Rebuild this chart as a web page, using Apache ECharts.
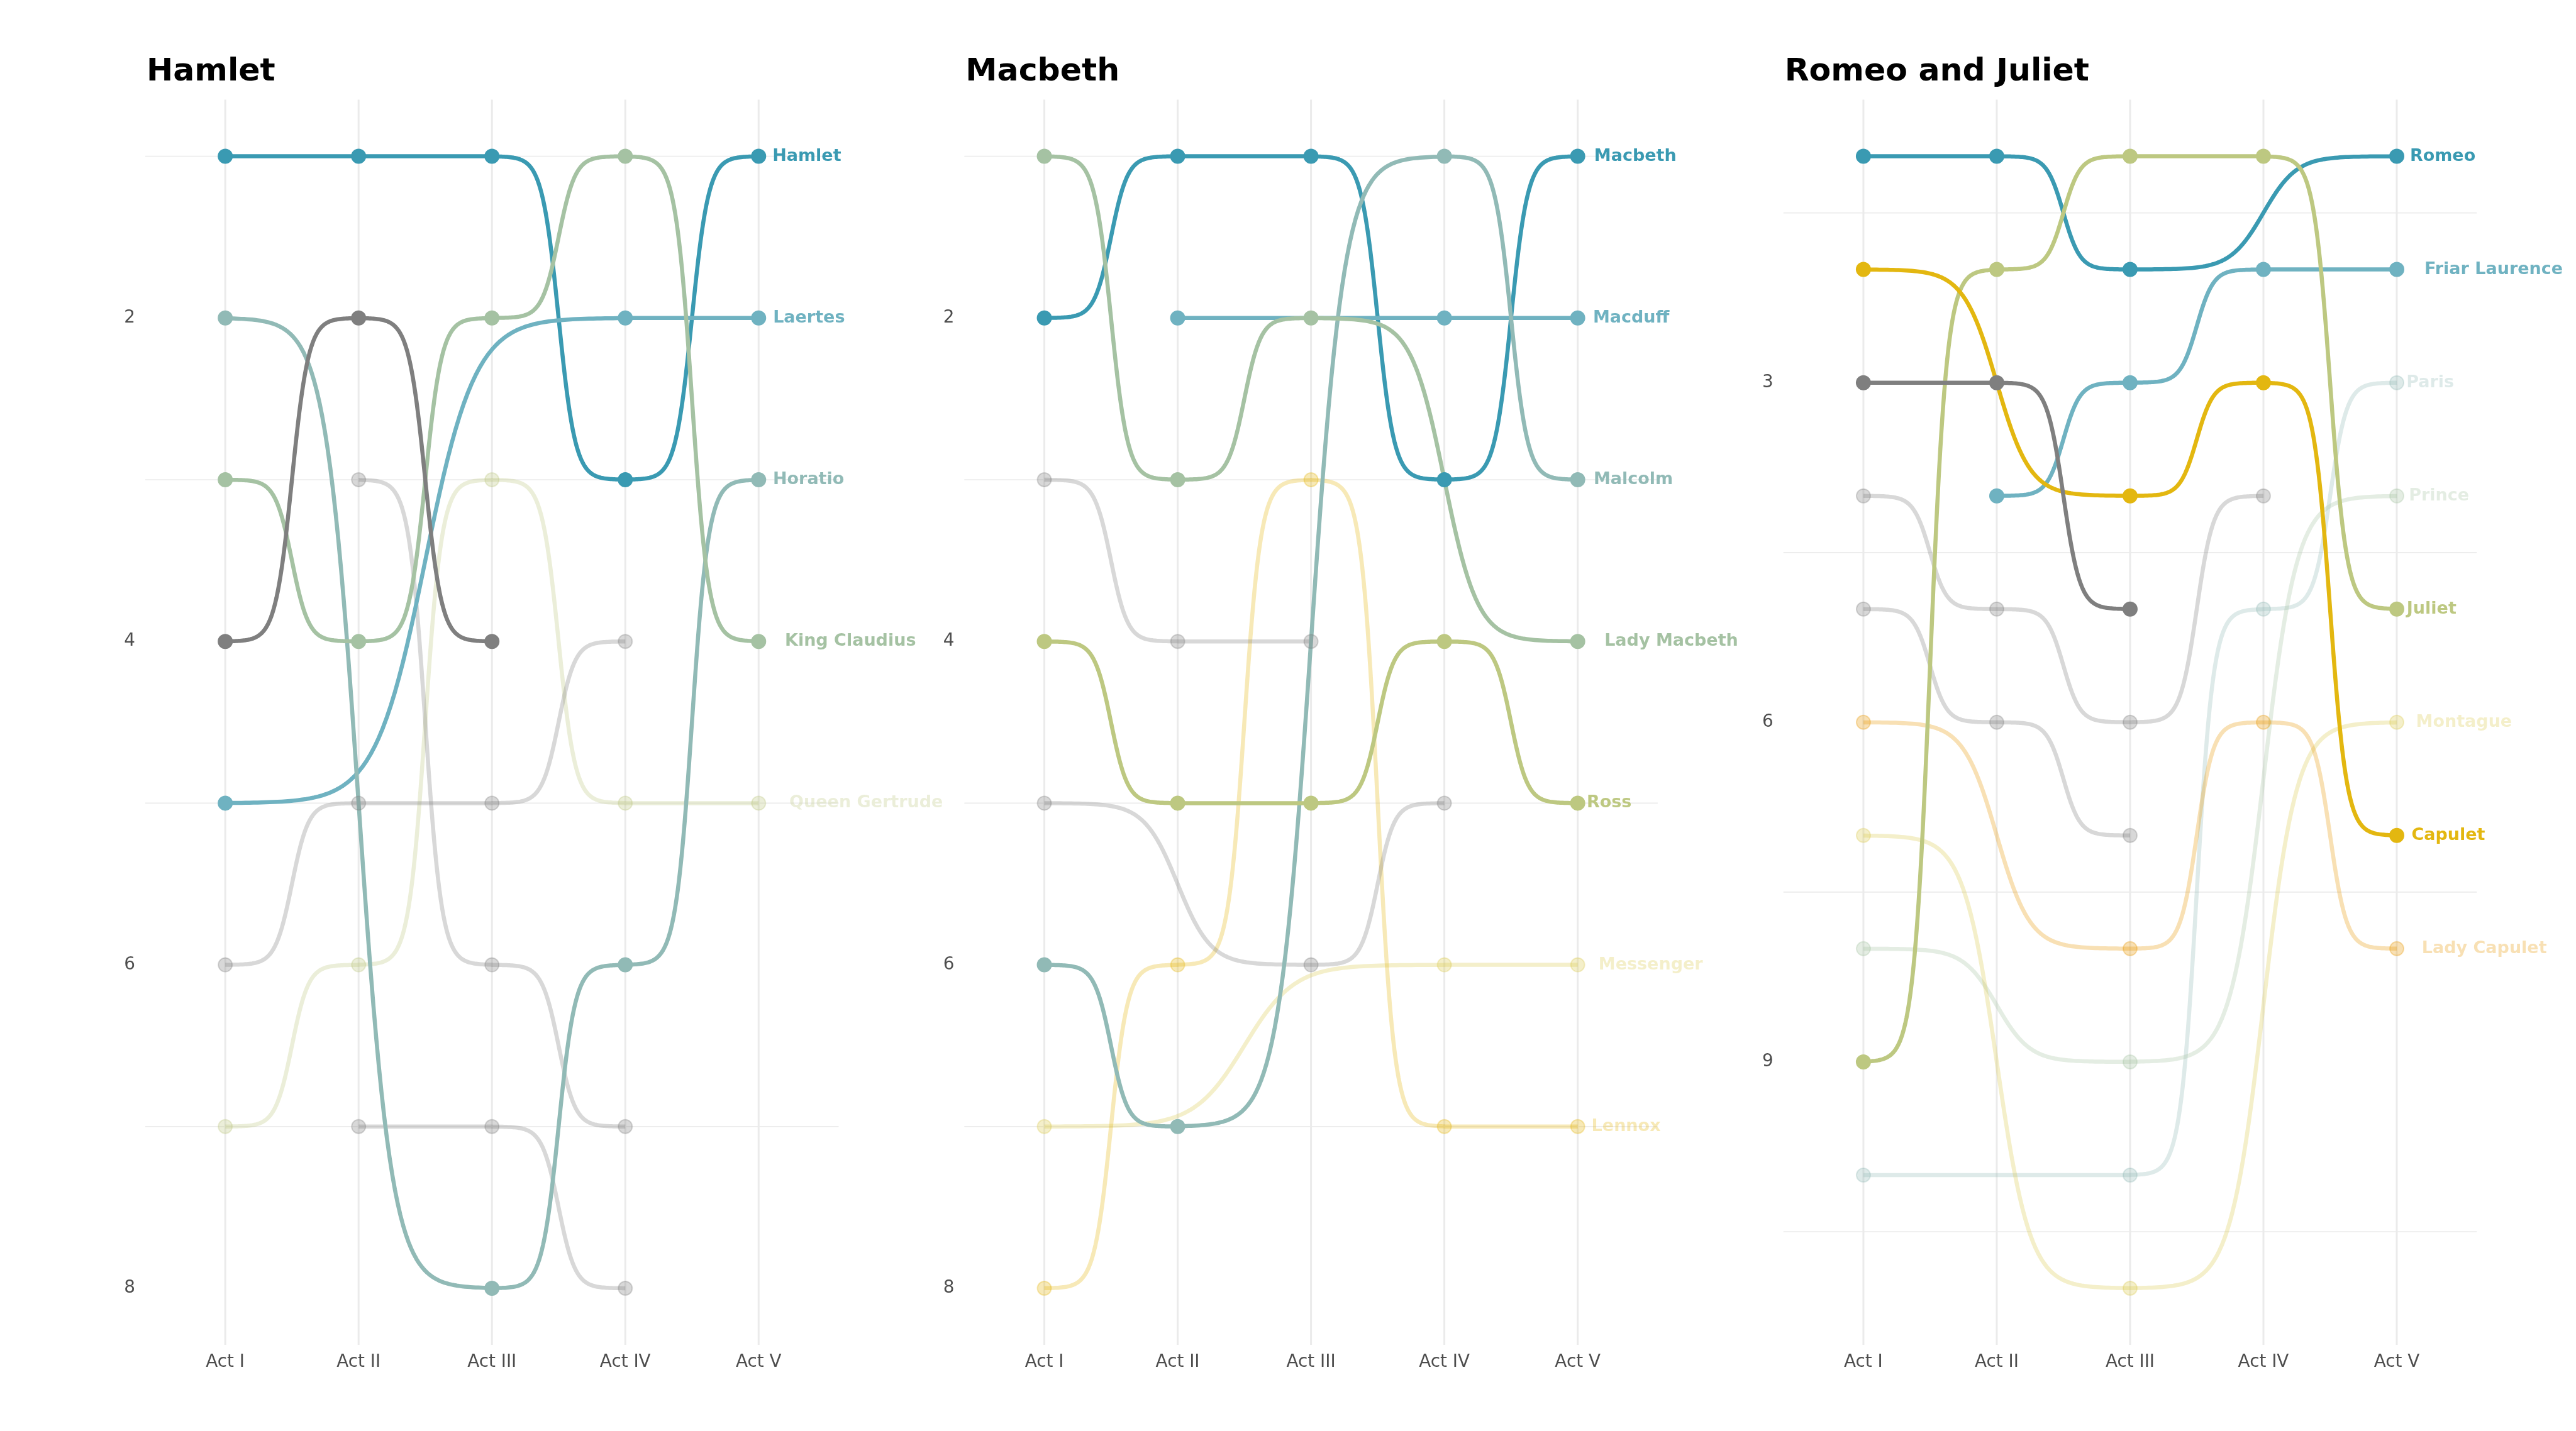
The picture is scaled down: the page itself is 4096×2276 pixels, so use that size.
<!DOCTYPE html>
<html>
<head>
<meta charset="utf-8">
<script src="https://cdn.jsdelivr.net/npm/echarts@6/dist/echarts.min.js"></script>
<style>
html,body{margin:0;padding:0;background:#ffffff;}
#chart{width:4096px;height:2276px;}
</style>
</head>
<body>
<div id="chart"></div>
<script>
// ---------------- DATA ----------------
const acts = ['Act I', 'Act II', 'Act III', 'Act IV', 'Act V'];
const actValues = [1, 2, 3, 4, 5];
const playTitles = ['Hamlet', 'Macbeth', 'Romeo and Juliet'];

// rank of each character in each act (null = not present)
const hamletCharacters = ['Hamlet', 'Laertes', 'Horatio', 'King Claudius', 'Queen Gertrude',
  'Polonius', 'Ophelia', 'Rosencrantz', 'Guildenstern'];
const hamletRanks = [
  [1, 1, 1, 3, 1],
  [5, null, null, 2, 2],
  [2, null, 8, 6, 3],
  [3, 4, 2, 1, 4],
  [7, 6, 3, 5, 5],
  [4, 2, 4, null, null],
  [6, 5, 5, 4, null],
  [null, 3, 6, 7, null],
  [null, 7, 7, 8, null]
];
const hamletHighlighted = ['Hamlet', 'Laertes', 'Horatio', 'King Claudius', 'Polonius'];

const macbethCharacters = ['Macbeth', 'Macduff', 'Malcolm', 'Lady Macbeth', 'Ross',
  'Messenger', 'Lennox', 'Banquo', 'First Witch'];
const macbethRanks = [
  [2, 1, 1, 3, 1],
  [null, 2, null, 2, 2],
  [6, 7, null, 1, 3],
  [1, 3, 2, null, 4],
  [4, 5, 5, 4, 5],
  [7, null, null, 6, 6],
  [8, 6, 3, 7, 7],
  [3, 4, 4, null, null],
  [5, null, 6, 5, null]
];
const macbethHighlighted = ['Macbeth', 'Macduff', 'Malcolm', 'Lady Macbeth', 'Ross'];

const romeoCharacters = ['Romeo', 'Friar Laurence', 'Paris', 'Prince', 'Juliet', 'Montague',
  'Capulet', 'Lady Capulet', 'Mercutio', 'Nurse', 'Benvolio'];
const romeoRanks = [
  [1, 1, 2, null, 1],
  [null, 4, 3, 2, 2],
  [10, null, 10, 5, 3],
  [8, null, 9, null, 4],
  [9, 2, 1, 1, 5],
  [7, null, 11, null, 6],
  [2, null, 4, 3, 7],
  [6, null, 8, 6, 8],
  [3, 3, 5, null, null],
  [4, 5, 6, 4, null],
  [5, 6, 7, null, null]
];
const romeoHighlighted = ['Romeo', 'Friar Laurence', 'Juliet', 'Capulet', 'Mercutio'];

// y-axis tick labels and minor grid lines
const hamletYTicks = [2, 4, 6, 8];
const hamletYGrid = [1, 3, 5, 7];
const macbethYTicks = [2, 4, 6, 8];
const macbethYGrid = [1, 3, 5, 7];
const romeoYTicks = [3, 6, 9];
const romeoYGrid = [1.5, 4.5, 7.5, 10.5];

// colour palette (wesanderson Zissou1Continuous), by final-act rank
const palette = ['#3A9AB2', '#6FB2C1', '#91BAB6', '#A5C2A3', '#BDC881', '#DCCB4E', '#E3B710', '#E79805'];
const otherColor = '#7F7F7F';

// ---------------- LAYOUT / STYLE ----------------
const S = 4096 / 5400;
const panelLefts = [304.5 * S, 2021.5 * S, 3738.5 * S];
const panelWidth = 1453.5 * S;
const panelTop = 209 * S;
const panelHeight = (2820 - 209) * S;
const FONT = '"DejaVu Sans", "Liberation Sans", sans-serif';
const lineW = 6.5;
const fadeAlpha = 0.3;
const labelFontSize = 27;
const labelFont = 'bold ' + labelFontSize + 'px ' + FONT;

const plays = [
  {chars: hamletCharacters, ranks: hamletRanks, hi: hamletHighlighted, ticks: hamletYTicks, grid: hamletYGrid},
  {chars: macbethCharacters, ranks: macbethRanks, hi: macbethHighlighted, ticks: macbethYTicks, grid: macbethYGrid},
  {chars: romeoCharacters, ranks: romeoRanks, hi: romeoHighlighted, ticks: romeoYTicks, grid: romeoYGrid}
];

function rgba(hex, a) {
  const r = parseInt(hex.slice(1, 3), 16), g = parseInt(hex.slice(3, 5), 16), b = parseInt(hex.slice(5, 7), 16);
  return 'rgba(' + r + ',' + g + ',' + b + ',' + a + ')';
}

const measureCtx = document.createElement('canvas').getContext('2d');
measureCtx.font = labelFont;
function textWidth(t) { return measureCtx.measureText(t).width; }

// ggbump-style sigmoid between two pixel points
function sigmoidPts(p0, p1, out) {
  const n = 100, s = 8;
  for (let k = 0; k < n; k++) {
    const t = -s + 2 * s * k / (n - 1);
    const f = 1 / (1 + Math.exp(-t));
    out.push([p0[0] + (t + s) / (2 * s) * (p1[0] - p0[0]), p0[1] + f * (p1[1] - p0[1])]);
  }
}

const grids = [], xAxes = [], yAxes = [], series = [], titles = [];

plays.forEach(function (play, pi) {
  let maxRank = 0;
  play.ranks.forEach(function (row) { row.forEach(function (v) { if (v != null && v > maxRank) maxRank = v; }); });
  const pad = 0.05 * (maxRank - 1);

  grids.push({left: panelLefts[pi], top: panelTop, width: panelWidth, height: panelHeight, containLabel: false});
  titles.push({
    text: playTitles[pi], left: panelLefts[pi] + 2, top: 89, padding: 0,
    textStyle: {fontFamily: FONT, fontWeight: 'bold', fontSize: 50.5, color: '#000000'}
  });
  xAxes.push({
    type: 'value', gridIndex: pi, min: 0.4, max: 5.6,
    axisLine: {show: false}, axisTick: {show: false}, splitLine: {show: false},
    axisLabel: {
      customValues: actValues, margin: 14, color: '#4D4D4D', fontFamily: FONT, fontSize: 27.8,
      formatter: function (v) { return acts[Math.round(v) - 1]; }
    }
  });
  yAxes.push({
    type: 'value', gridIndex: pi, inverse: true, min: 1 - pad, max: maxRank + pad,
    axisLine: {show: false}, axisTick: {show: false}, splitLine: {show: false},
    axisLabel: {customValues: play.ticks, margin: 16, color: '#4D4D4D', fontFamily: FONT, fontSize: 27.8}
  });

  // horizontal (minor) grid lines
  series.push({
    type: 'custom', xAxisIndex: pi, yAxisIndex: pi, z: 0, silent: true,
    data: play.grid.map(function (v) { return [3, v]; }),
    encode: {x: 0, y: 1},
    renderItem: function (params, api) {
      const y = api.coord([3, api.value(1)])[1];
      const cs = params.coordSys;
      return {type: 'line', shape: {x1: cs.x, y1: y, x2: cs.x + cs.width, y2: y},
        style: {stroke: '#EBEBEB', lineWidth: 1.6}};
    }
  });
  // vertical grid lines at acts
  series.push({
    type: 'custom', xAxisIndex: pi, yAxisIndex: pi, z: 0, silent: true,
    data: actValues.map(function (a) { return [a, 1]; }),
    encode: {x: 0, y: 1},
    renderItem: function (params, api) {
      const x = api.coord([api.value(0), 1])[0];
      const cs = params.coordSys;
      return {type: 'line', shape: {x1: x, y1: cs.y, x2: x, y2: cs.y + cs.height},
        style: {stroke: '#EBEBEB', lineWidth: 3}};
    }
  });

  const labelNames = [], labelColors = [], labelData = [];

  play.chars.forEach(function (name, ci) {
    const row = play.ranks[ci];
    const finalRank = row[4];
    const base = finalRank != null ? palette[finalRank - 1] : otherColor;
    const hi = play.hi.indexOf(name) >= 0;
    const alpha = hi ? 1 : fadeAlpha;
    const col = rgba(base, alpha);
    const pts = [];
    row.forEach(function (r, ai) { if (r != null) pts.push([actValues[ai], r]); });

    // bump line
    series.push({
      type: 'custom', name: name, xAxisIndex: pi, yAxisIndex: pi, z: hi ? 2 : 1, silent: true,
      data: pts, encode: {x: 0, y: 1},
      renderItem: function (params, api) {
        if (params.dataIndexInside !== 0) return null;
        const n = params.dataInsideLength;
        const path = [];
        let prev = null;
        for (let i = 0; i < n; i++) {
          const c = api.coord([api.value(0, i), api.value(1, i)]);
          if (prev) sigmoidPts(prev, c, path);
          prev = c;
        }
        if (path.length < 2) return null;
        return {type: 'polyline', shape: {points: path},
          style: {stroke: col, lineWidth: lineW, fill: null, lineJoin: 'round', lineCap: 'butt'}};
      }
    });
    // points
    series.push({
      type: 'scatter', name: name + ' points', xAxisIndex: pi, yAxisIndex: pi, z: 3, silent: true,
      data: pts, symbol: 'circle', symbolSize: 22,
      itemStyle: {color: col, borderColor: col, borderWidth: 2, opacity: 1},
      emphasis: {disabled: true}
    });
    if (finalRank != null) {
      labelNames.push(name);
      labelColors.push(col);
      labelData.push([5, finalRank]);
    }
  });

  // end labels
  series.push({
    type: 'custom', xAxisIndex: pi, yAxisIndex: pi, z: 4, silent: true, clip: false,
    data: labelData, encode: {x: 0, y: 1},
    renderItem: function (params, api) {
      const c = api.coord([api.value(0), api.value(1)]);
      const t = labelNames[params.dataIndex];
      const w = textWidth(t);
      return {type: 'text', x: c[0] + 0.2 * w, y: c[1],
        style: {text: t, fill: labelColors[params.dataIndex], font: labelFont,
          textAlign: 'left', textVerticalAlign: 'middle'}};
    }
  });
});

const chart = echarts.init(document.getElementById('chart'), null, {renderer: 'canvas'});
chart.setOption({
  animation: false,
  backgroundColor: '#ffffff',
  title: titles,
  grid: grids,
  xAxis: xAxes,
  yAxis: yAxes,
  series: series
});
</script>
</body>
</html>
